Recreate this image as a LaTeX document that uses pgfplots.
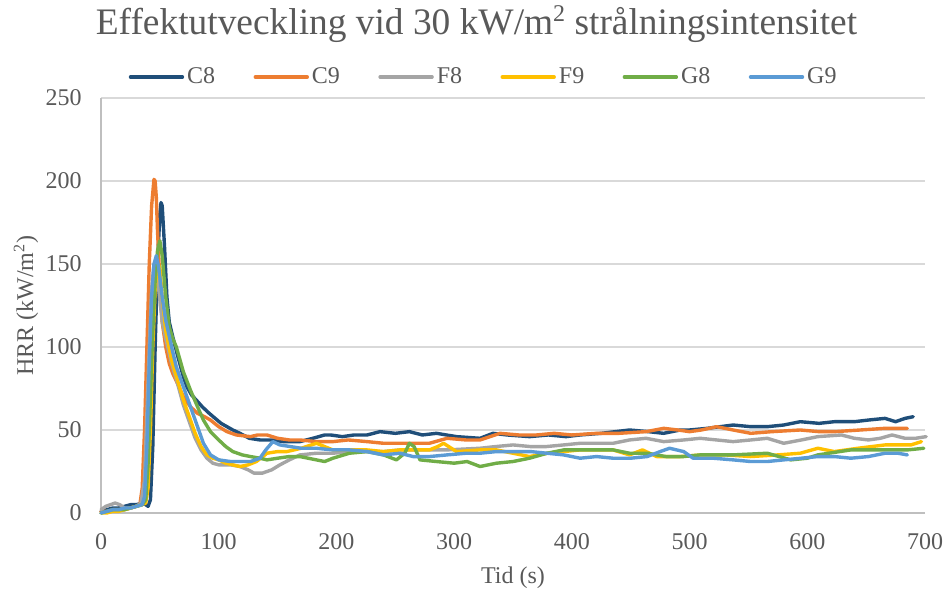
\documentclass[border=0pt]{standalone}
\usepackage{fontspec}
\setmainfont{Liberation Serif}
\usepackage{pgfplots}
\pgfplotsset{compat=1.18}
\definecolor{cCe}{HTML}{1F4E79}
\definecolor{cCn}{HTML}{ED7D31}
\definecolor{cFe}{HTML}{A5A5A5}
\definecolor{cFn}{HTML}{FFC000}
\definecolor{cGe}{HTML}{70AD47}
\definecolor{cGn}{HTML}{5B9BD5}
\definecolor{txt}{HTML}{595959}
\definecolor{axl}{HTML}{BFBFBF}
\definecolor{grd}{HTML}{D9D9D9}
\begin{document}
\begin{tikzpicture}
\useasboundingbox (0,0) rectangle (473pt,296pt);
\node[font=\fontsize{18.7}{22}\selectfont, text=txt, anchor=base, inner sep=0pt] at (238.25pt,278.5pt) {Effektutveckling vid 30 kW/m{\fontsize{12}{14}\selectfont\raisebox{0.55em}{2}} strålningsintensitet};
\begin{axis}[at={(50.5pt,39.5pt)}, anchor=south west, scale only axis,
  width=412pt, height=207.5pt,
  xmin=0, xmax=700, ymin=0, ymax=250,
  xtick={0,100,...,700}, ytick={0,50,...,250},
  axis x line*=bottom, axis y line*=left,
  axis line style={axl, line width=1pt, -},
  major tick length=0pt,
  ymajorgrids, grid style={grd, line width=0.75pt},
  /pgf/number format/assume math mode=true,
  tick label style={font=\fontsize{12}{14}\selectfont, text=txt},
  xticklabel style={anchor=north, inner sep=0pt, yshift=-10pt},
  yticklabel style={anchor=east, inner sep=0pt, xshift=-9.5pt},
  label style={font=\fontsize{12}{14}\selectfont, text=txt},
  xlabel={Tid (s)}, ylabel={HRR (kW/m\textsuperscript{2})},
  xlabel style={at={(axis description cs:0.5,-0.1687)}, anchor=base, inner sep=0pt},
  ylabel style={at={(axis description cs:-0.0825,0.5)}, anchor=base, inner sep=0pt},
  clip=false,
  every axis plot/.append style={line width=1.7pt, line join=round, line cap=round, mark=none},
  legend image code/.code={\draw[#1] (0pt,0pt) -- (26pt,0pt);},
  legend style={at={(0.465,1.0506)}, anchor=center, draw=none, fill=none,
    legend columns=6, font=\fontsize{12}{14}\selectfont, text=txt,
    nodes={inner sep=1.5pt},
    /tikz/every even column/.append style={column sep=17.7pt}},
]
% C8
\addplot[cCe] coordinates {(0,1) (5,2) (10,3) (15,3) (20,4) (25,5) (30,5) (35,6) (38,5) (40,4) (42,8) (44,40) (46,100) (48,150) (50,180) (51,187) (52,185) (54,160) (56,130) (58,115) (61,106) (65,95) (70,82) (73,76) (77,71) (81,68) (86,64) (92,60) (97,57) (102,54) (107,52) (112,50) (118,48) (126,45) (135,44) (145,44) (155,43) (169,43) (180,45) (190,47) (195,47) (205,46) (215,47) (226,47) (237,49) (250,48) (262,49) (273,47) (285,48) (302,46) (322,45) (333,48) (345,47) (364,46) (380,47) (395,46) (407,47) (425,48) (449,50) (465,49) (478,48) (492,50) (500,50) (515,51) (537,53) (552,52) (566,52) (580,53) (594,55) (610,54) (623,55) (640,55) (652,56) (666,57) (675,55) (683,57) (690,58)};
\addlegendentry{C8}
% C9
\addplot[cCn] coordinates {(0,1) (5,1) (10,2) (15,2) (20,2) (25,3) (30,4) (33,5) (35,15) (37,50) (39,100) (41,150) (43,185) (45,201) (46,200) (47,190) (48,170) (50,140) (52,115) (55,100) (58,90) (61,84) (65,78) (70,70) (76,64) (82,60) (88,58) (93,56) (100,52) (107,49) (115,47) (127,46) (133,47) (141,47) (150,45) (160,44) (169,44) (183,43) (197,43) (210,44) (226,43) (240,42) (254,42) (265,42) (279,42) (294,45) (310,44) (322,44) (339,48) (355,47) (370,47) (385,48) (400,47) (421,48) (440,48) (463,49) (478,51) (490,50) (500,49) (510,50) (523,52) (537,50) (552,48) (570,49) (594,50) (610,49) (623,49) (645,50) (666,51) (685,51)};
\addlegendentry{C9}
% F8
\addplot[cFe] coordinates {(0,2) (4,4) (8,5) (12,6) (16,5) (20,3) (25,3) (30,4) (34,6) (37,20) (39,60) (41,100) (43,135) (45,150) (47,148) (49,135) (52,115) (55,105) (60,90) (65,78) (70,65) (75,55) (80,45) (85,38) (90,33) (95,30) (100,29) (110,29) (118,28) (125,26) (130,24) (137,24) (145,26) (152,29) (160,32) (169,35) (183,36) (197,36) (211,37) (226,37) (240,37) (254,38) (270,38) (294,38) (322,39) (335,40) (350,41) (365,40) (378,40) (393,41) (407,42) (420,42) (435,42) (449,44) (463,45) (478,43) (495,44) (509,45) (523,44) (537,43) (552,44) (566,45) (580,42) (595,44) (609,46) (629,47) (640,45) (652,44) (662,45) (672,47) (683,45) (692,45) (701,46)};
\addlegendentry{F8}
% F9
\addplot[cFn] coordinates {(0,0) (5,0) (10,1) (15,1) (20,2) (25,3) (30,4) (35,5) (38,6) (40,15) (42,50) (44,100) (46,135) (48,150) (50,148) (52,130) (55,110) (60,92) (65,80) (70,68) (75,58) (80,48) (85,40) (90,35) (95,33) (100,32) (106,30) (112,29) (118,28) (125,29) (132,31) (141,36) (150,37) (158,37) (170,39) (183,42) (190,40) (197,38) (211,38) (226,38) (240,37) (254,38) (265,38) (279,38) (286,40) (291,42) (302,37) (322,38) (336,38) (350,36) (364,34) (379,36) (393,37) (407,38) (435,38) (449,35) (460,38) (472,34) (492,34) (510,35) (530,35) (552,34) (575,35) (594,36) (609,39) (623,37) (643,39) (666,41) (688,41) (697,43)};
\addlegendentry{F9}
% G8
\addplot[cGe] coordinates {(0,0) (5,1) (10,2) (15,2) (20,2) (25,3) (30,4) (35,5) (38,8) (40,30) (42,70) (44,110) (46,140) (48,158) (50,164) (52,155) (55,130) (58,112) (61,105) (64,100) (70,85) (76,74) (82,64) (87,56) (93,49) (100,44) (106,40) (112,37) (120,35) (127,34) (135,33) (141,32) (150,33) (160,34) (169,34) (183,32) (190,31) (197,33) (211,36) (226,37) (240,35) (251,32) (258,36) (262,42) (266,40) (271,32) (285,31) (300,30) (311,31) (322,28) (336,30) (350,31) (364,33) (379,36) (393,38) (421,38) (435,38) (449,36) (464,36) (480,34) (495,34) (509,35) (537,35) (566,36) (586,32) (600,33) (609,35) (637,38) (666,38) (685,38) (699,39)};
\addlegendentry{G8}
% G9
\addplot[cGn] coordinates {(0,0) (5,1) (10,2) (15,2) (20,3) (25,3) (30,4) (35,5) (37,10) (39,40) (41,90) (43,130) (45,150) (47,155) (49,148) (52,130) (55,116) (60,100) (64,88) (70,76) (76,64) (82,52) (87,42) (93,35) (100,32) (110,31) (118,31) (127,31) (135,33) (140,38) (146,43) (152,41) (161,40) (170,39) (183,39) (197,38) (211,38) (226,37) (240,35) (254,36) (265,34) (279,34) (294,35) (310,36) (322,36) (336,37) (350,37) (365,37) (379,36) (393,35) (407,33) (421,34) (435,33) (450,33) (464,34) (475,37) (483,39) (495,37) (503,33) (520,33) (537,32) (552,31) (566,31) (580,32) (595,33) (609,34) (623,34) (637,33) (652,34) (666,36) (677,36) (685,35)};
\addlegendentry{G9}
\end{axis}
\end{tikzpicture}
\end{document}
